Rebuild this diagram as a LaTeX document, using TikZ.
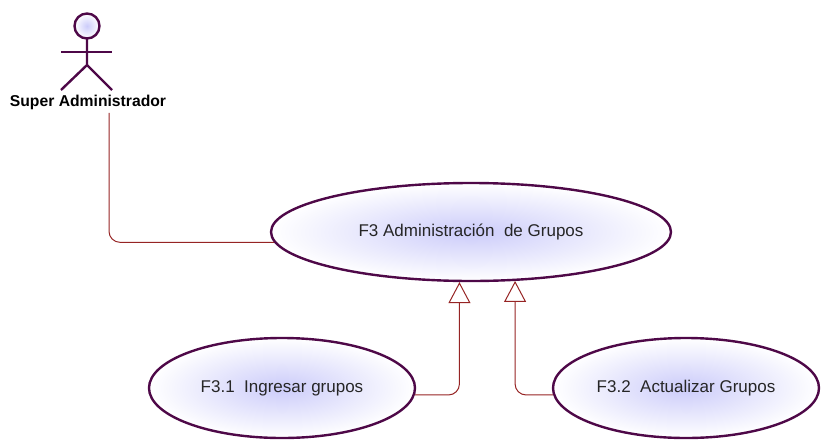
\documentclass[tikz,border=0pt]{standalone}
\usepackage{fontspec}
\setmainfont{Liberation Sans}
\usetikzlibrary{shapes.geometric,arrows.meta}
\definecolor{umlborde}{RGB}{78,8,72}
\definecolor{umllinea}{RGB}{150,36,36}
\definecolor{umlrelleno}{RGB}{204,204,250}
\begin{document}
\begin{tikzpicture}[x=1pt,y=-1pt,
  usecase/.style={ellipse,draw=umlborde,line width=2.4pt,inner color=umlrelleno,outer color=white,
    font=\fontsize{17}{19}\selectfont,text=black!85},
  actorline/.style={draw=umlborde,line width=2.4pt},
  assoc/.style={draw=umllinea,line width=1pt,rounded corners=11pt},
  gen/.style={assoc,-{Triangle[open,width=22pt,length=21pt,line width=1pt]}}]
\useasboundingbox (0,0) rectangle (821,439);
% actor
\coordinate (actor) at (87,26);
\draw[actorline,inner color=umlrelleno,outer color=white] (actor) circle (12.5);
\draw[actorline] (actor) ++(0,13) -- ++(0,26) -- ++(-26,25);
\draw[actorline] (actor) ++(0,39) -- ++(25,25);
\draw[actorline] (61,52) -- (112,52);
\node[font=\fontsize{15.7}{17}\selectfont\bfseries] (superadmin) at (88,102) {Super Administrador};
% use cases
\node[usecase,minimum width=400pt,minimum height=98pt] (grupos) at (471,232) {F3 Administración\ \ de Grupos};
\node[usecase,minimum width=266pt,minimum height=100pt] (ingresar) at (282,388) {F3.1\ \ Ingresar grupos};
\node[usecase,minimum width=266pt,minimum height=100pt] (actualizar) at (686,388) {F3.2\ \ Actualizar Grupos};
% relations
\draw[assoc] (superadmin.south -| 109,0) |- (grupos.183);
\draw[gen] (ingresar.357) -| (grupos.257.5);
\draw[gen] (actualizar.183) -| (grupos.312);
\end{tikzpicture}
\end{document}
